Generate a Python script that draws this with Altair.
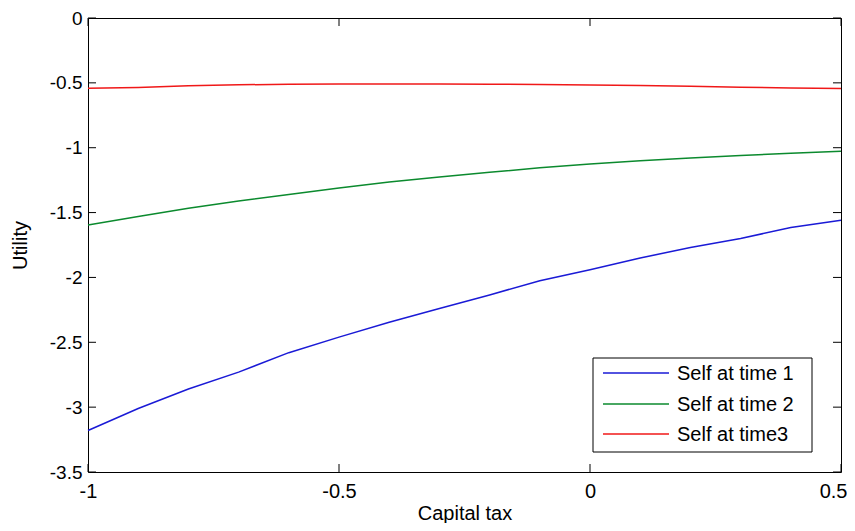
import altair as alt
import pandas as pd

# ---- data ----
tax = [-1.0, -0.9, -0.8, -0.7, -0.6, -0.5, -0.4, -0.3, -0.2, -0.1,
       0.0, 0.1, 0.2, 0.3, 0.4, 0.5]
self_time1 = [-3.18, -3.01, -2.86, -2.73, -2.58, -2.46, -2.345, -2.24, -2.135,
              -2.025, -1.94, -1.85, -1.77, -1.70, -1.615, -1.56]
self_time2 = [-1.595, -1.53, -1.466, -1.41, -1.36, -1.31, -1.265, -1.225, -1.19,
              -1.155, -1.125, -1.10, -1.08, -1.06, -1.043, -1.028]
self_time3 = [-0.542, -0.535, -0.522, -0.515, -0.511, -0.509, -0.508, -0.508,
              -0.51, -0.513, -0.516, -0.52, -0.526, -0.533, -0.54, -0.544]
series_names = ["Self at time 1", "Self at time 2", "Self at time3"]
series_colors = ["#1a1ad6", "#0b8a2e", "#f01818"]
x_ticks = [-1, -0.5, 0, 0.5]
y_ticks = [0, -0.5, -1, -1.5, -2, -2.5, -3, -3.5]

FONT = "Liberation Sans"
W, H = 753, 454

df = pd.DataFrame({
    "tax": tax * 3,
    "utility": self_time1 + self_time2 + self_time3,
    "series": [series_names[0]] * len(tax) + [series_names[1]] * len(tax)
              + [series_names[2]] * len(tax),
})

xscale = alt.Scale(domain=[-1, 0.5], nice=False, zero=False)
yscale = alt.Scale(domain=[-3.5, 0], nice=False, zero=False)

x_axis = alt.Axis(
    values=x_ticks, title="Capital tax", ticks=False, tickSize=0,
    domain=False, grid=False, labelPadding=9, labelFontSize=20,
    labelColor="black", labelExpr="'' + datum.value",
    titleFontSize=20, titleFontWeight="normal", titleColor="black",
    titleY=41, titleBaseline="middle", labelFlush=False,
    labelAlign={"condition": {"test": "datum.value == 0.5", "value": "right"},
                "value": "center"},
    labelOffset={"condition": {"test": "datum.value == 0.5", "value": 6},
                 "value": 0},
)
y_axis = alt.Axis(
    values=y_ticks, title="Utility", ticks=False, tickSize=0,
    domain=False, grid=False, labelPadding=6, labelFontSize=19,
    labelColor="black", labelExpr="'' + datum.value",
    titleFontSize=20, titleFontWeight="normal", titleColor="black",
    titleX=-68, titleY=H / 2, titleBaseline="middle", titleAngle=-90,
    labelFlush=False,
)

lines = alt.Chart(df).mark_line(strokeWidth=1.5).encode(
    x=alt.X("tax:Q", scale=xscale, axis=x_axis),
    y=alt.Y("utility:Q", scale=yscale, axis=y_axis),
    color=alt.Color("series:N", scale=alt.Scale(domain=series_names,
                                                 range=series_colors),
                    legend=None),
    order="tax:Q",
)

yt = pd.DataFrame({"utility": y_ticks})
xt = pd.DataFrame({"tax": x_ticks})
TL = 8
tick_layers = [
    alt.Chart(yt).mark_rule(color="black", strokeWidth=1).encode(
        y=alt.Y("utility:Q", scale=yscale, axis=y_axis), x=alt.value(0), x2=alt.value(TL)),
    alt.Chart(yt).mark_rule(color="black", strokeWidth=1).encode(
        y=alt.Y("utility:Q", scale=yscale, axis=y_axis), x=alt.value(W - TL), x2=alt.value(W)),
    alt.Chart(xt).mark_rule(color="black", strokeWidth=1).encode(
        x=alt.X("tax:Q", scale=xscale, axis=x_axis), y=alt.value(H - TL), y2=alt.value(H)),
    alt.Chart(xt).mark_rule(color="black", strokeWidth=1).encode(
        x=alt.X("tax:Q", scale=xscale, axis=x_axis), y=alt.value(0), y2=alt.value(TL)),
]

# ---- legend box ----
one = pd.DataFrame({"a": [0]})
legend_layers = [
    alt.Chart(one).mark_rect(fill="white", stroke="black", strokeWidth=1).encode(
        x=alt.value(505), x2=alt.value(724), y=alt.value(340), y2=alt.value(434))
]
row_y = [355, 386, 416]
for name, col, ry in zip(series_names, series_colors, row_y):
    d = pd.DataFrame({"label": [name]})
    legend_layers.append(
        alt.Chart(d).mark_rule(color=col, strokeWidth=1.5).encode(
            x=alt.value(515), x2=alt.value(581), y=alt.value(ry)))
    legend_layers.append(
        alt.Chart(d).mark_text(align="left", baseline="middle", fontSize=20,
                               font=FONT, color="black").encode(
            x=alt.value(589), y=alt.value(ry + 1), text="label:N"))

chart = alt.layer(lines, *tick_layers, *legend_layers).properties(
    width=W, height=H,
    autosize=alt.AutoSizeParams(type="none"),
    padding={"left": 80, "top": 10, "right": 6, "bottom": 51},
    background="white",
).configure(font=FONT).configure_view(stroke="black", strokeWidth=1)

chart.save("out.html", embed_options={"renderer": "svg", "actions": False})
